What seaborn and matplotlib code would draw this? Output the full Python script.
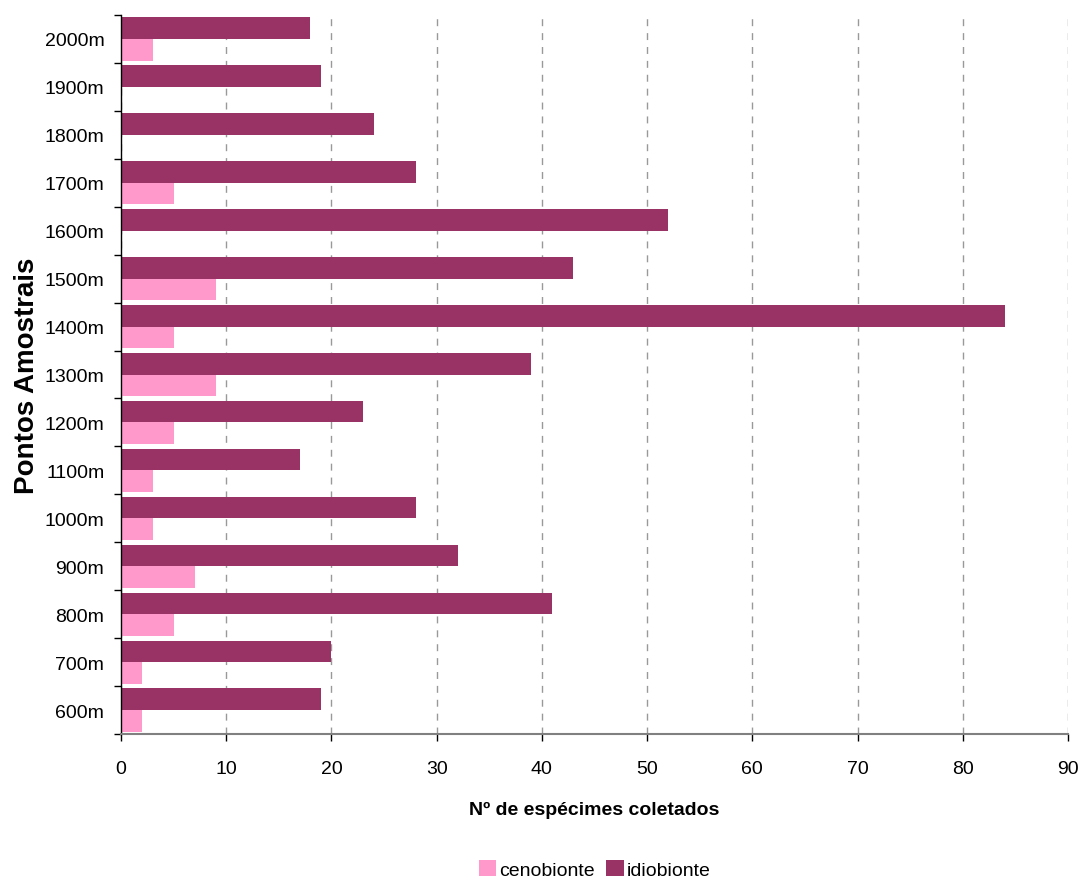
import numpy as np
import pandas as pd
import matplotlib
matplotlib.use("Agg")
import matplotlib.pyplot as plt
import seaborn as sns

# Sampling points (altitude) and species counts per group
pontos = ["600m", "700m", "800m", "900m", "1000m", "1100m", "1200m", "1300m",
          "1400m", "1500m", "1600m", "1700m", "1800m", "1900m", "2000m"]
cenobionte = [2, 2, 5, 7, 3, 3, 5, 9, 5, 9, 0, 5, 0, 0, 3]
idiobionte = [19, 20, 41, 32, 28, 17, 23, 39, 84, 43, 52, 28, 24, 19, 18]
grupos = ["cenobionte", "idiobionte"]
cores = {"cenobionte": "#FF99CC", "idiobionte": "#993366"}
xticks = [0, 10, 20, 30, 40, 50, 60, 70, 80, 90]

df = pd.DataFrame({
    "ponto": pontos * 2,
    "grupo": ["cenobionte"] * len(pontos) + ["idiobionte"] * len(pontos),
    "n": cenobionte + idiobionte,
})

sns.set_style("white")
plt.rcParams["font.family"] = ["Liberation Sans", "DejaVu Sans"]
plt.rcParams["text.color"] = "black"
plt.rcParams["axes.labelcolor"] = "black"
plt.rcParams["xtick.color"] = "black"
plt.rcParams["ytick.color"] = "black"

fig = plt.figure(figsize=(10.82, 8.79), dpi=100)
ax = fig.add_axes([121 / 1082, 1 - 735 / 879, (1068 - 121) / 1082, (735 - 16) / 879])

sns.barplot(data=df, y="ponto", x="n", hue="grupo", order=pontos,
            hue_order=grupos, palette=cores, orient="h", width=0.9,
            saturation=1, linewidth=0, ax=ax, legend=True)

# lowest altitude at the bottom, cenobionte below idiobionte within a group
ax.invert_yaxis()
ax.set_ylim(-0.5, len(pontos) - 0.5)
ax.set_xlim(0, 90)
ax.set_xticks(xticks)

ax.set_axisbelow(True)
ax.xaxis.grid(True, linestyle=(0, (5, 5)), color="#999999", linewidth=1)
ax.yaxis.grid(False)

for s in ["top", "right"]:
    ax.spines[s].set_visible(False)
ax.spines["left"].set_color("black")
ax.spines["left"].set_linewidth(1)
ax.spines["bottom"].set_color("#808080")
ax.spines["bottom"].set_linewidth(1.5)

# category labels centred, tick marks on category boundaries
ax.set_yticks(np.arange(len(pontos)))
ax.set_yticks(np.arange(len(pontos) + 1) - 0.5, minor=True)
ax.tick_params(axis="y", which="major", length=0, labelsize=14, pad=12)
ax.tick_params(axis="y", which="minor", length=5, width=1, color="black", left=True)
ax.tick_params(axis="x", which="major", length=5, width=1, color="black",
               labelsize=14, pad=14, bottom=True)

ax.set_ylabel("Pontos Amostrais", fontsize=20, fontweight="bold", labelpad=3)
ax.set_xlabel("Nº de espécimes coletados", fontsize=14, fontweight="bold",
              labelpad=17)

handles, labels = ax.get_legend_handles_labels()
ax.get_legend().remove()
ax.legend(handles, labels, loc="center", bbox_to_anchor=(0.5, -0.188), ncol=2,
          frameon=False, fontsize=14, handlelength=0.9, handleheight=0.9,
          handletextpad=0.15, columnspacing=0.6)

fig.savefig("out.png", dpi=100)
